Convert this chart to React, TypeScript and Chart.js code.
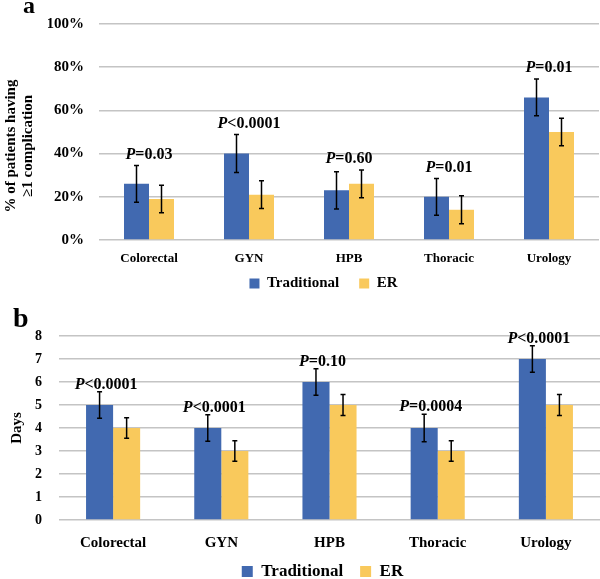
import React, { useEffect, useRef } from 'react';
import { Chart, registerables } from 'chart.js';
Chart.register(...registerables);

const FONT = "'Liberation Serif', 'Times New Roman', serif";

const categories = ['Colorectal', 'GYN', 'HPB', 'Thoracic', 'Urology'];
const seriesNames = ['Traditional', 'ER'];
const seriesColors = ['#4169B0', '#F9C95C'];

// Panel a: % of patients having >=1 complication
const compTraditional = [26, 40, 23, 20, 66];
const compER = [19, 21, 26, 14, 50];
const compErrTraditional = [8.5, 8.8, 8.6, 8.5, 8.5];
const compErrER = [6.4, 6.4, 6.4, 6.5, 6.4];
const compP = ['P=0.03', 'P<0.0001', 'P=0.60', 'P=0.01', 'P=0.01'];
const compYTitle = ['% of patients having', '\u22651 complication'];

// Panel b: length of stay (days)
const losTraditional = [5, 4, 6, 4, 7];
const losER = [4, 3, 5, 3, 5];
const losErrTraditional = [0.58, 0.58, 0.58, 0.6, 0.58];
const losErrER = [0.45, 0.45, 0.46, 0.45, 0.46];
const losP = ['P<0.0001', 'P<0.0001', 'P=0.10', 'P=0.0004', 'P<0.0001'];
const losYTitle = ['Days'];

type PanelOpts = {
  values: number[][];
  errors: number[][];
  pLabels: string[];
  yMax: number;
  yStep: number;
  yFmt: (v: number) => string;
  yTitle: string[];
  letter: string;
};

function makeConfig(o: PanelOpts, geo: any): any {
  const errorBars = {
    id: 'errorBars',
    afterDatasetsDraw(chart: any) {
      const ctx = chart.ctx;
      const ys = chart.scales.y;
      ctx.save();
      ctx.strokeStyle = '#000';
      ctx.lineWidth = 1.5;
      chart.data.datasets.forEach((ds: any, i: number) => {
        const meta = chart.getDatasetMeta(i);
        meta.data.forEach((el: any, j: number) => {
          const v = ds.data[j];
          const e = o.errors[i][j];
          const yt = ys.getPixelForValue(v + e);
          const yb = ys.getPixelForValue(v - e);
          const x = el.x;
          ctx.beginPath();
          ctx.moveTo(x, yt); ctx.lineTo(x, yb);
          ctx.moveTo(x - 2.5, yt); ctx.lineTo(x + 2.5, yt);
          ctx.moveTo(x - 2.5, yb); ctx.lineTo(x + 2.5, yb);
          ctx.stroke();
        });
      });
      ctx.restore();
    },
  };

  const pValues = {
    id: 'pValues',
    afterDatasetsDraw(chart: any) {
      const ctx = chart.ctx;
      const ys = chart.scales.y;
      const m0 = chart.getDatasetMeta(0);
      const m1 = chart.getDatasetMeta(1);
      ctx.save();
      ctx.fillStyle = '#000';
      ctx.textBaseline = 'middle';
      ctx.textAlign = 'left';
      o.pLabels.forEach((lab, j) => {
        const e0 = m0.data[j];
        const e1 = m1.data[j];
        const cx = (e0.x + e1.x) / 2 + geo.pDx;
        const top = Math.min(
          ys.getPixelForValue(o.values[0][j] + o.errors[0][j]),
          ys.getPixelForValue(o.values[1][j] + o.errors[1][j])
        );
        const cy = top - geo.pGap;
        const head = lab.slice(0, 1);
        const rest = lab.slice(1);
        ctx.font = `italic bold 16px ${FONT}`;
        const w1 = ctx.measureText(head).width;
        ctx.font = `bold 16px ${FONT}`;
        const w2 = ctx.measureText(rest).width;
        const x0 = cx - (w1 + w2) / 2;
        ctx.font = `italic bold 16px ${FONT}`;
        ctx.fillText(head, x0, cy);
        ctx.font = `bold 16px ${FONT}`;
        ctx.fillText(rest, x0 + w1, cy);
      });
      ctx.restore();
    },
  };

  const decorations = {
    id: 'decorations',
    afterDraw(chart: any) {
      const ctx = chart.ctx;
      const ca = chart.chartArea;
      ctx.save();
      ctx.fillStyle = '#000';
      ctx.font = `bold ${geo.titleSize}px ${FONT}`;
      ctx.textAlign = 'center';
      ctx.textBaseline = 'middle';
      const cy = (ca.top + ca.bottom) / 2 + geo.titleDy;
      o.yTitle.forEach((line, k) => {
        ctx.save();
        ctx.translate(geo.titleX[k], cy);
        ctx.rotate(-Math.PI / 2);
        ctx.fillText(line, 0, 0);
        ctx.restore();
      });
      ctx.font = `bold ${geo.letterSize}px ${FONT}`;
      ctx.textAlign = 'left';
      ctx.textBaseline = 'alphabetic';
      ctx.fillText(o.letter, geo.letterX, geo.letterY);
      ctx.restore();
    },
  };

  return {
    type: 'bar',
    data: {
      labels: categories,
      datasets: seriesNames.map((name, i) => ({
        label: name,
        data: o.values[i],
        backgroundColor: seriesColors[i],
        borderWidth: 0,
        categoryPercentage: 0.5,
        barPercentage: 1.0,
      })),
    },
    options: {
      responsive: false,
      animation: false,
      layout: { padding: geo.padding },
      scales: {
        x: {
          grid: { display: false },
          border: { display: false },
          ticks: {
            color: '#000',
            maxRotation: 0,
            autoSkip: false,
            mirror: true,
            padding: geo.xPad,
            font: { family: FONT, size: geo.xSize, weight: 'bold' },
          },
          afterFit: (s: any) => { s.height = geo.xHeight; },
        },
        y: {
          min: 0,
          max: o.yMax,
          grid: { color: '#C4C4C4', lineWidth: 1.5, drawTicks: false },
          border: { display: false },
          ticks: {
            stepSize: o.yStep,
            color: '#000',
            mirror: geo.yMirror,
            crossAlign: geo.yMirror ? 'far' : 'near',
            padding: geo.yPad,
            font: { family: FONT, size: geo.ySize, weight: 'bold' },
            callback: (v: any) => o.yFmt(Number(v)),
          },
          afterFit: (s: any) => { s.width = geo.yWidth; },
        },
      },
      plugins: {
        legend: {
          position: 'bottom',
          labels: {
            color: '#000',
            boxWidth: geo.legendBox,
            boxHeight: geo.legendBox,
            padding: geo.legendPad,
            font: { family: FONT, size: geo.legendSize, weight: 'bold' },
          },
        },
        tooltip: { enabled: false },
      },
    },
    plugins: [errorBars, pValues, decorations],
  };
}

export default function App() {
  const refA = useRef<HTMLCanvasElement>(null);
  const refB = useRef<HTMLCanvasElement>(null);

  useEffect(() => {
    const chartA = new Chart(
      refA.current as HTMLCanvasElement,
      makeConfig(
        {
          values: [compTraditional, compER],
          errors: [compErrTraditional, compErrER],
          pLabels: compP,
          yMax: 100,
          yStep: 20,
          yFmt: (v) => `${v}%`,
          yTitle: compYTitle,
          letter: 'a',
        },
        {
          padding: { left: 48, right: 1, top: 20, bottom: 0 },
          xHeight: 16, xPad: -26, xSize: 13,
          yWidth: 51, yPad: 15, ySize: 15, yMirror: false,
          legendBox: 10, legendPad: 20, legendSize: 15,
          pDx: 0, pGap: 11,
          titleSize: 15, titleX: [11, 28], titleDy: 14,
          letterSize: 24, letterX: 23, letterY: 13,
        }
      )
    );
    const chartB = new Chart(
      refB.current as HTMLCanvasElement,
      makeConfig(
        {
          values: [losTraditional, losER],
          errors: [losErrTraditional, losErrER],
          pLabels: losP,
          yMax: 8,
          yStep: 1,
          yFmt: (v) => `${v}`,
          yTitle: losYTitle,
          letter: 'b',
        },
        {
          padding: { left: 45, right: 0, top: 46, bottom: 0 },
          xHeight: 26, xPad: -32, xSize: 15,
          yWidth: 14, yPad: -24, ySize: 14, yMirror: true,
          legendBox: 11, legendPad: 17, legendSize: 17,
          pDx: -7, pGap: 7,
          titleSize: 15, titleX: [17], titleDy: 0,
          letterSize: 28, letterX: 13, letterY: 37,
        }
      )
    );
    return () => {
      chartA.destroy();
      chartB.destroy();
    };
  }, []);

  return (
    <div style={{ position: 'fixed', left: 0, top: 0, width: 600, height: 579, overflow: 'hidden', background: '#fff' }}>
      <div style={{ position: 'absolute', left: 0, top: 0, width: 600, height: 301 }}>
        <canvas ref={refA} width={600} height={301} style={{ display: 'block' }} />
      </div>
      <div style={{ position: 'absolute', left: 0, top: 290, width: 600, height: 300 }}>
        <canvas ref={refB} width={600} height={300} style={{ display: 'block' }} />
      </div>
    </div>
  );
}
